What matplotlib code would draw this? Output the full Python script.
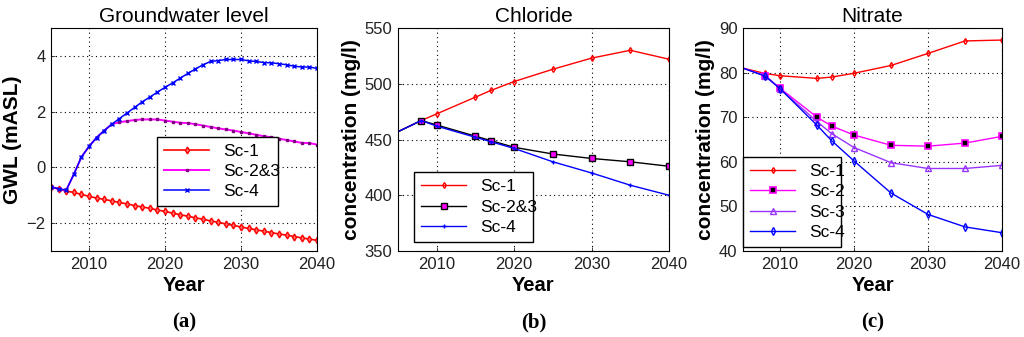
import matplotlib
matplotlib.use("Agg")
import matplotlib.pyplot as plt
import numpy as np

plt.rcParams['font.family'] = ['Liberation Sans', 'DejaVu Sans']

# ---- Groundwater level (annual) ----
gwl_years = list(range(2005, 2041))
gwl_sc1 = [-0.72, -0.77, -0.85, -0.90, -0.97, -1.04, -1.10, -1.15, -1.20, -1.26,
           -1.31, -1.37, -1.42, -1.47, -1.53, -1.58, -1.64, -1.70, -1.75, -1.81,
           -1.86, -1.92, -1.97, -2.03, -2.08, -2.14, -2.19, -2.24, -2.29, -2.34,
           -2.39, -2.43, -2.48, -2.53, -2.57, -2.62]
gwl_sc23 = [-0.70, -0.77, -0.82, -0.25, 0.37, 0.75, 1.07, 1.32, 1.55, 1.62,
            1.66, 1.70, 1.72, 1.72, 1.72, 1.68, 1.64, 1.60, 1.59, 1.55,
            1.50, 1.45, 1.40, 1.36, 1.32, 1.27, 1.22, 1.17, 1.12, 1.08,
            1.03, 0.98, 0.93, 0.88, 0.87, 0.82]
gwl_sc4 = [-0.70, -0.77, -0.82, -0.25, 0.37, 0.75, 1.07, 1.32, 1.55, 1.75,
           1.95, 2.15, 2.35, 2.52, 2.70, 2.87, 3.03, 3.20, 3.37, 3.53,
           3.68, 3.80, 3.83, 3.87, 3.87, 3.87, 3.82, 3.80, 3.76, 3.75,
           3.72, 3.68, 3.63, 3.60, 3.60, 3.55]

# ---- Chloride ----
cl_years = [2005, 2008, 2010, 2015, 2017, 2020, 2025, 2030, 2035, 2040]
cl_sc1 = [457, 467, 473, 488, 494, 502, 513, 523, 530, 522]
cl_sc23 = [457, 467, 463, 453, 449, 443, 437, 433, 430, 426]
cl_sc4 = [457, 467, 462, 452, 448, 442, 430, 420, 409, 400]

# ---- Nitrate ----
no3_years = [2005, 2008, 2010, 2015, 2017, 2020, 2025, 2030, 2035, 2040]
no3_sc1 = [81.0, 79.8, 79.3, 78.7, 79.0, 79.85, 81.6, 84.3, 87.1, 87.3]
no3_sc2 = [81.0, 79.3, 76.5, 70.0, 68.0, 66.0, 63.7, 63.5, 64.2, 65.7]
no3_sc3 = [81.0, 79.3, 76.4, 69.0, 66.3, 63.2, 59.8, 58.5, 58.5, 59.2]
no3_sc4 = [81.0, 79.2, 76.4, 68.2, 64.7, 60.2, 53.0, 48.2, 45.4, 44.1]

xticks = [2010, 2020, 2030, 2040]

fig = plt.figure(figsize=(10.24, 3.37), dpi=100)
W, H = 1024, 337

def add_ax(l, t, r, b):
    return fig.add_axes([l / W, 1 - b / H, (r - l) / W, (b - t) / H])

axa = add_ax(51, 28, 317, 251)
axb = add_ax(398, 28, 669, 251)
axc = add_ax(743, 28, 1002, 251)

def style(ax, ylim, yticks, title, ylabel, tag):
    ax.set_xlim(2005, 2040)
    ax.set_ylim(*ylim)
    ax.set_xticks(xticks)
    ax.set_yticks(yticks)
    ax.grid(True, color='black', linestyle=(0, (1, 3)), linewidth=0.8)
    ax.tick_params(direction='in', length=3, labelsize=12, colors='#222222', width=0.6, pad=4)
    for s in ax.spines.values():
        s.set_linewidth(0.8)
    ax.set_title(title, fontsize=15, pad=4)
    ax.set_xlabel('Year', fontsize=14.5, fontweight='bold', labelpad=3)
    ax.set_ylabel(ylabel, fontsize=15, fontweight='bold', labelpad=3)
    ax.text(0.5, -0.275, tag, transform=ax.transAxes, ha='center', va='top',
            fontsize=15, fontweight='bold', family='Liberation Serif')

leg_kw = dict(loc='lower left', mode='expand', fontsize=12.5, frameon=True, fancybox=False,
              edgecolor='black', framealpha=1, borderaxespad=0, handlelength=2.6,
              labelspacing=0.3, borderpad=0.4)

# (a)
axa.plot(gwl_years, gwl_sc1, color='red', marker='d', ms=3.5, mfc='#ff7070', lw=1.2, label='Sc-1')
axa.plot(gwl_years, gwl_sc23, color='magenta', marker='s', ms=2, mfc='#800080', mec='#800080', lw=1.4, label='Sc-2&3')
axa.plot(gwl_years, gwl_sc4, color='blue', marker='x', ms=2.5, mew=1, lw=1.1, label='Sc-4')
style(axa, (-3, 5), [-2, 0, 2, 4], 'Groundwater level', 'GWL (mASL)', '(a)')
axa.legend(bbox_to_anchor=(0.40, 0.20, 0.453, 0.316), **leg_kw)

# (b)
mkb = slice(1, None)
axb.plot(cl_years, cl_sc1, color='red', marker='d', ms=3, mfc='none', lw=1, markevery=mkb, label='Sc-1')
axb.plot(cl_years, cl_sc23, color='black', marker='s', ms=5, mfc='magenta', mec='black', lw=1, markevery=mkb, label='Sc-2&3')
axb.plot(cl_years, cl_sc4, color='blue', marker='+', ms=3, lw=1, markevery=mkb, label='Sc-4')
style(axb, (350, 550), [350, 400, 450, 500, 550], 'Chloride', 'concentration (mg/l)', '(b)')
axb.legend(bbox_to_anchor=(0.059, 0.04, 0.44, 0.32), **leg_kw)

# (c)
axc.plot(no3_years, no3_sc1, color='red', marker='d', ms=3, mfc='none', lw=1, markevery=mkb, label='Sc-1')
axc.plot(no3_years, no3_sc2, color='magenta', marker='s', ms=5, mfc='black', mec='magenta', mew=1.2, lw=1, markevery=mkb, label='Sc-2')
axc.plot(no3_years, no3_sc3, color='#9933ff', marker='^', ms=4, mfc='none', lw=1, markevery=mkb, label='Sc-3')
axc.plot(no3_years, no3_sc4, color='blue', marker='d', ms=4, mfc='none', lw=1, markevery=mkb, label='Sc-4')
style(axc, (40, 90), [40, 50, 60, 70, 80, 90], 'Nitrate', 'concentration (mg/l)', '(c)')
axc.legend(bbox_to_anchor=(0.0, 0.018, 0.38, 0.43), **leg_kw)

fig.savefig('out.png', dpi=100)
